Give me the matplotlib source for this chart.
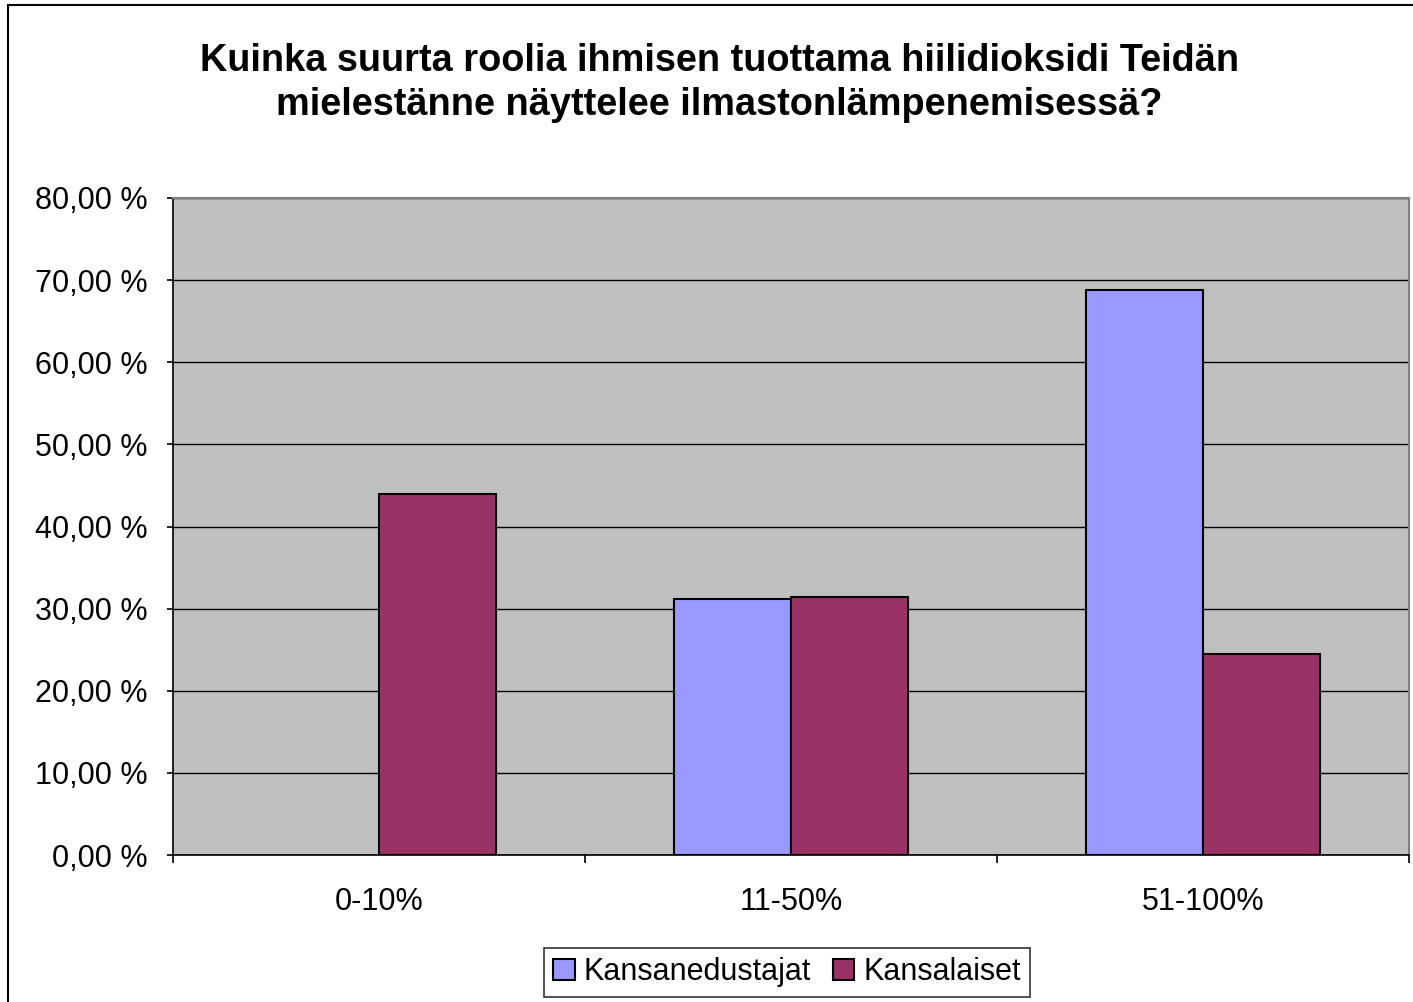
import numpy as np
import matplotlib
matplotlib.use("Agg")
import matplotlib.pyplot as plt
from matplotlib.patches import Rectangle, Patch

plt.rcParams['font.family'] = ['Liberation Sans', 'DejaVu Sans']

categories = ["0-10%", "11-50%", "51-100%"]
series_names = ["Kansanedustajat", "Kansalaiset"]
kansanedustajat = [0.0, 31.2, 68.8]
kansalaiset = [44.0, 31.4, 24.5]
yticks = [0, 10, 20, 30, 40, 50, 60, 70, 80]
colors = ['#9999FF', '#993366']
title = ("Kuinka suurta roolia ihmisen tuottama hiilidioksidi Teidän\n"
         "mielestänne näyttelee ilmastonlämpenemisessä?")

fig = plt.figure(figsize=(14.13, 10.02), dpi=100)
ax = fig.add_axes([0.1224, 0.1467, 0.8748, 0.6557])

# outer chart frame (cut off at right and bottom like the original)
fig.patches.append(Rectangle((8 / 1413, -0.05), 1.1, 1 - 5 / 1002 + 0.05,
                             transform=fig.transFigure, fill=False,
                             edgecolor='black', linewidth=1.5))

ax.set_facecolor('#C0C0C0')
x = np.arange(len(categories))
w = 0.285
bars1 = ax.bar(x - w / 2, kansanedustajat, w, color=colors[0], edgecolor='black',
               linewidth=1.5, zorder=3)
ax.bar(x + w / 2, kansalaiset, w, color=colors[1], edgecolor='black',
       linewidth=1.5, zorder=3)
# zero-height bar: no outline
for b, v in zip(bars1, kansanedustajat):
    if v == 0:
        b.set_visible(False)

ax.set_xlim(-0.5, 2.5)
ax.set_ylim(0, 80)
ax.set_yticks(yticks)
ax.set_yticklabels([f"{v},00 %" for v in yticks], fontsize=22)
ax.yaxis.grid(True, color='black', linewidth=1.0, zorder=1)

ax.set_xticks(x)
ax.set_xticklabels(categories, fontsize=22)
ax.tick_params(axis='x', length=0, pad=23)
ax.set_xticks([-0.5, 0.5, 1.5, 2.5], minor=True)
ax.tick_params(axis='x', which='minor', length=6, width=1.2, direction='out')
ax.tick_params(axis='y', length=4.5, width=1.2, direction='out', pad=13.5)

for side in ['top', 'right']:
    ax.spines[side].set_color('#808080')
    ax.spines[side].set_linewidth(1.5)
for side in ['left', 'bottom']:
    ax.spines[side].set_color('black')
    ax.spines[side].set_linewidth(1.2)

fig.text(0.509, 0.9175, title, ha='center', va='center', fontsize=27.3,
         fontweight='bold', linespacing=1.28)

handles = [Patch(facecolor=c, edgecolor='black', linewidth=1.5) for c in colors]
leg = fig.legend(handles, series_names, loc='center',
                 bbox_to_anchor=(0.557, 0.0295), ncol=2,
                 fontsize=22, frameon=True, fancybox=False, edgecolor='black',
                 handlelength=0.7, handleheight=0.7, handletextpad=0.3,
                 columnspacing=0.7, borderpad=0.3, borderaxespad=0)
leg.get_frame().set_linewidth(1.2)

fig.savefig("out.png", dpi=100, facecolor='white')
